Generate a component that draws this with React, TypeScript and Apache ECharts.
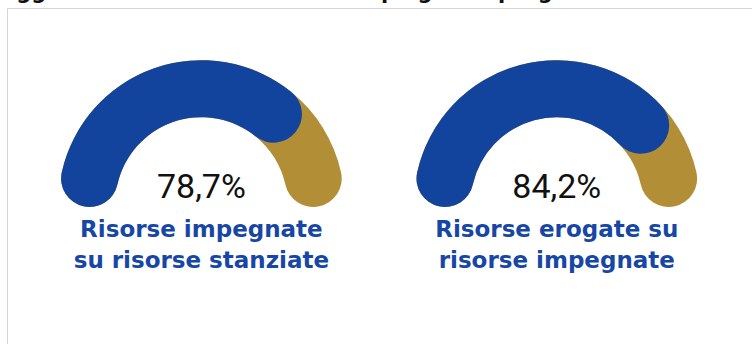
import React, { useEffect, useRef } from "react";
import * as echarts from "echarts";

const titleText = "Aggiornamento sullo stato di impiego dei progetti";
const gaugeLabels = ["Risorse impegnate\nsu risorse stanziate", "Risorse erogate su\nrisorse impegnate"];
const gaugeValues = [78.7, 84.2];
const gaugeCentersX = [201.4, 556.8];

const BLUE = "#12449e";
const GOLD = "#b28f37";
const LABEL_BLUE = "#1747a6";

export default function App() {
  const ref = useRef<HTMLDivElement>(null);
  useEffect(() => {
    const chart = echarts.init(ref.current!, null, { renderer: "svg" });
    const cy = 203.2;
    const radius = 143;
    const width = 57;
    const series: any[] = [];
    gaugeValues.forEach((v, i) => {
      const cx = gaugeCentersX[i];
      series.push({
        type: "gauge",
        center: [cx, cy],
        radius,
        startAngle: 167.5,
        endAngle: 12.5,
        min: 0,
        max: 100,
        axisLine: { roundCap: true, lineStyle: { width, color: [[1, GOLD]] } },
        progress: { show: false },
        pointer: { show: false },
        axisTick: { show: false },
        splitLine: { show: false },
        axisLabel: { show: false },
        title: { show: false },
        detail: { show: false },
        data: [{ value: 0 }],
        silent: true,
      });
      series.push({
        type: "gauge",
        center: [cx, cy],
        radius,
        startAngle: 167.5,
        endAngle: 19.5,
        min: 0,
        max: 100,
        axisLine: { show: false, lineStyle: { width } },
        progress: { show: true, roundCap: true, width, itemStyle: { color: BLUE } },
        pointer: { show: false },
        axisTick: { show: false },
        splitLine: { show: false },
        axisLabel: { show: false },
        title: {
          show: true,
          offsetCenter: [0, 41],
          color: LABEL_BLUE,
          fontFamily: "DejaVu Sans",
          fontWeight: "bold",
          fontSize: 23,
          lineHeight: 31,
        },
        detail: {
          show: true,
          offsetCenter: [0, -17.5],
          formatter: (val: number) => val.toFixed(1).replace(".", ",") + "%",
          color: "#111111",
          fontFamily: "Roboto",
          fontWeight: "normal",
          fontSize: 34,
        },
        data: [{ value: v, name: gaugeLabels[i] }],
      });
    });
    chart.setOption({
      animation: false,
      backgroundColor: "#ffffff",
      graphic: [
        {
          type: "rect",
          shape: { x: 7.5, y: 8.5, width: 800, height: 400 },
          style: { fill: "none", stroke: "#d6d6d6", lineWidth: 1 },
          silent: true,
        },
        {
          type: "text",
          x: 0,
          y: 2,
          style: {
            text: titleText,
            fill: "#111111",
            font: "bold 21px 'DejaVu Sans'",
            verticalAlign: "bottom",
            align: "left",
          },
        },
      ],
      series,
    });
    return () => chart.dispose();
  }, []);
  return <div ref={ref} style={{ position: "fixed", left: 0, top: 0, width: 752, height: 344 }} />;
}
